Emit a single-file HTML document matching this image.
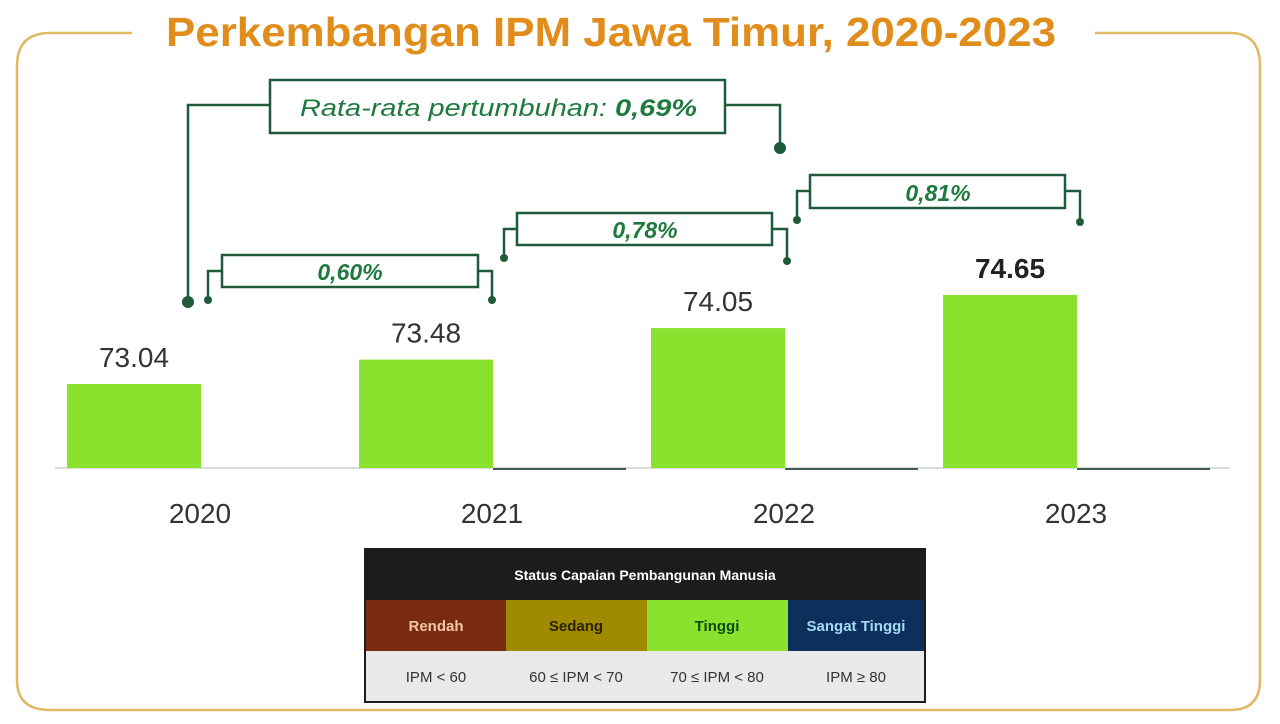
<!DOCTYPE html>
<html><head><meta charset="utf-8"><style>
html,body{margin:0;padding:0;background:#fff;}
svg{display:block;}
text{font-family:"Liberation Sans",sans-serif;}
</style></head><body>
<svg width="1280" height="724" viewBox="0 0 1280 724">
<path d="M132 33 H50 Q17 33 17 66 V680 Q17 710 50 710 H1230 Q1260 710 1260 680 V66 Q1260 33 1230 33 H1095" fill="none" stroke="#e2b766" stroke-width="2.5"/>
<text x="166" y="46" textLength="890" lengthAdjust="spacingAndGlyphs" font-size="41" font-weight="bold" fill="#e08d1b">Perkembangan IPM Jawa Timur, 2020-2023</text>
<line x1="55" y1="468" x2="1230" y2="468" stroke="#cfcfcf" stroke-width="1.5"/>
<g id="bars"></g>
<g stroke="#1f5a3a" stroke-width="2.5" fill="none">
<rect x="222" y="255" width="256" height="32" fill="#fff"/>
<polyline points="222,271 208,271 208,300"/>
<polyline points="478,271 492,271 492,300"/>
<rect x="517" y="213" width="255" height="32" fill="#fff"/>
<polyline points="517,229 504,229 504,258"/>
<polyline points="772,229 787,229 787,261"/>
<rect x="810" y="175" width="255" height="33" fill="#fff"/>
<polyline points="810,191 797,191 797,220"/>
<polyline points="1065,191 1080,191 1080,222"/>
<rect x="270" y="80" width="455" height="53" fill="#fff"/>
<polyline points="270,105 188,105 188,302"/>
<polyline points="725,105 780,105 780,148"/>
</g>
<g fill="#1f5a3a">
<circle cx="208" cy="300" r="4"/><circle cx="492" cy="300" r="4"/>
<circle cx="504" cy="258" r="4"/><circle cx="787" cy="261" r="4"/>
<circle cx="797" cy="220" r="4"/><circle cx="1080" cy="222" r="4"/>
<circle cx="188" cy="302" r="6"/><circle cx="780" cy="148" r="6"/>
</g>
<g font-style="italic" font-weight="bold" fill="#1e7a3e" font-size="23" text-anchor="middle">
<text x="350" y="280">0,60%</text>
<text x="645" y="238">0,78%</text>
<text x="938" y="201">0,81%</text>
<text x="300" y="116" text-anchor="start" textLength="397" lengthAdjust="spacingAndGlyphs" font-size="24"><tspan font-weight="normal">Rata-rata pertumbuhan: </tspan>0,69%</text>
</g>
<g>
<rect x="364" y="548" width="562" height="155" fill="#1c1c1c"/>
<text x="645" y="580" text-anchor="middle" fill="#fff" font-size="14" font-weight="bold">Status Capaian Pembangunan Manusia</text>
<rect x="366" y="600" width="140" height="51" fill="#7a2a0e"/>
<rect x="506" y="600" width="141" height="51" fill="#a08a00"/>
<rect x="647" y="600" width="141" height="51" fill="#8be22e"/>
<rect x="788" y="600" width="136" height="51" fill="#0c2f5c"/>
<rect x="366" y="651" width="558" height="50" fill="#e9e9e9"/>
<g font-size="15" font-weight="bold" text-anchor="middle">
<text x="436" y="631" fill="#f6c6a8">Rendah</text>
<text x="576" y="631" fill="#2a2400">Sedang</text>
<text x="717" y="631" fill="#0d4a10">Tinggi</text>
<text x="856" y="631" fill="#a8d8f4">Sangat Tinggi</text>
</g>
<g font-size="15" text-anchor="middle" fill="#333">
<text x="436" y="682">IPM &lt; 60</text>
<text x="576" y="682">60 ≤ IPM &lt; 70</text>
<text x="717" y="682">70 ≤ IPM &lt; 80</text>
<text x="856" y="682">IPM ≥ 80</text>
</g>
</g>
</svg>
<script>
var categories = ["2020","2021","2022","2023"];
var values = [73.04, 73.48, 74.05, 74.65];
var valueLabels = ["73.04","73.48","74.05","74.65"];
var NS="http://www.w3.org/2000/svg";
function xPos(i){return 67 + i*292;}
function yPos(v){return 468 - (v-71.52)*55.3;}
var g=document.getElementById('bars');
for(var i=0;i<categories.length;i++){
  var x=xPos(i), y=yPos(values[i]);
  var r=document.createElementNS(NS,'rect');
  
  
  r.setAttribute('x',x);r.setAttribute('y',y);r.setAttribute('width',134);r.setAttribute('height',468-y);r.setAttribute('fill','#8ae12e');
  g.appendChild(r);
  var ax=document.createElementNS(NS,'line');
  
  
  if(i>0){ax.setAttribute('x1',x+134);ax.setAttribute('x2',x+267);ax.setAttribute('y1',469);ax.setAttribute('y2',469);ax.setAttribute('stroke','#3f5a50');ax.setAttribute('stroke-width','2');g.appendChild(ax);}
  var t=document.createElementNS(NS,'text');
  
  
  t.setAttribute('x',x+67);t.setAttribute('y',y-17);t.setAttribute('text-anchor','middle');t.setAttribute('font-size','28');
  t.setAttribute('fill', i==categories.length-1?'#222':'#333');
  if(i==categories.length-1)t.setAttribute('font-weight','bold');
  t.textContent=valueLabels[i];g.appendChild(t);
  var c=document.createElementNS(NS,'text');
  
  
  c.setAttribute('x',x+133);c.setAttribute('y',523);c.setAttribute('text-anchor','middle');c.setAttribute('font-size','28');c.setAttribute('fill','#333');
  c.textContent=categories[i];g.appendChild(c);
}
</script>
</body></html>
